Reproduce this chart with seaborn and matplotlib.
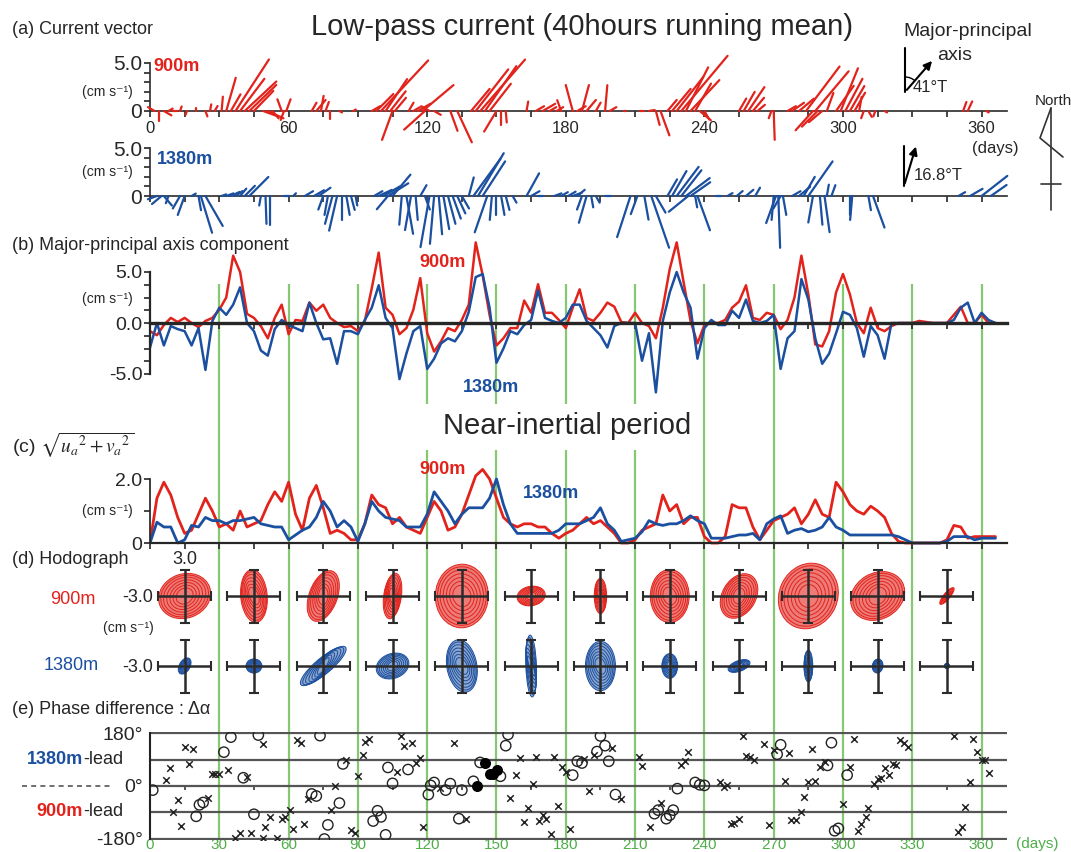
import numpy as np
import matplotlib
matplotlib.use("Agg")
import matplotlib.pyplot as plt
from matplotlib.collections import LineCollection
from matplotlib.patches import Ellipse, Arc
import seaborn as sns

sns.set_theme(style="ticks")
plt.rcParams['font.family'] = ['Liberation Sans', 'DejaVu Sans']
plt.rcParams['mathtext.fontset'] = 'stix'

W, H = 1071, 852
RED = '#e2231c'
BLUE = '#1b4f9f'
GREEN = '#86c872'
GREEN_TXT = '#4eae48'
GRAY = '#555555'

# ---------------- data ----------------
days3 = np.arange(0, 367, 3)

# (b) major-principal axis component (cm/s), every 3 days
major_900 = [
    -0.8, -1.2, -0.2, 0.5, 0.1, 0.5, 0.0, -0.4, 0.2, 0.5,
    1.3, 2.5, 6.6, 5.0, 0.9, 0.5, -0.3, -1.5, 0.5, 1.8,
    -1.1, 0.3, 0.2, 2.0, 1.2, 1.8, 0.5, 0.0, -0.4, -0.3,
    -0.8, 0.2, 3.4, 6.9, 1.5, 0.8, -1.1, -0.5, 1.3, 4.4,
    -1.0, -2.8, -1.8, -0.5, -0.8, 0.3, 1.8, 7.9, 4.7, 0.8,
    -2.2, -1.5, -0.5, -0.5, 2.2, 1.0, 3.8, 1.0, 1.0, 0.3,
    -0.5, 1.5, 3.3, 0.5, 0.2, 1.0, 2.0, 1.6, 0.1, 0.0,
    1.0, 0.0, -0.3, -1.5, 1.5, 5.3, 7.9, 4.0, 0.2, -2.0,
    -0.2, 0.0, 0.0, 0.3, 1.5, 2.1, 3.7, 0.5, 0.3, 1.0,
    0.8, -0.6, 0.3, 2.5, 6.6, 2.8, -2.1, -2.3, -0.8, 3.0,
    4.8, 2.8, 0.0, -1.0, 1.5, -0.5, -0.8, -0.3, 0.0, 0.0,
    0.0, 0.2, 0.1, 0.0, 0.0, 0.0, 0.8, 1.6, 0.0, 0.0,
    0.8, 0.0, 0.0]
major_1380 = [
    -2.4, 0.0, -2.2, -0.3, -0.6, -0.8, -2.2, -0.5, -4.6, 0.2,
    1.5, 0.8, 1.8, 3.5, 0.0, -0.8, -2.7, -3.2, -0.6, 0.3,
    -0.2, -0.5, -0.8, 2.0, 0.0, -1.6, -1.5, -4.0, -0.8, -0.8,
    -1.1, 0.3, 1.5, 3.7, 0.5, -0.5, -5.5, -3.0, -0.8, -0.3,
    -4.5, -3.5, -2.0, -1.5, -1.8, -0.8, 1.1, 4.5, 4.8, 1.5,
    -3.9, -2.5, -0.8, -1.1, -0.2, 0.3, 3.2, 0.5, 0.2, 0.0,
    0.5, 1.8, 1.8, 0.2, -0.5, -1.2, -2.4, -0.3, 0.0, 0.0,
    0.0, -3.7, -1.0, -6.8, 0.2, 3.0, 5.0, 3.0, 1.5, -3.5,
    -0.5, 0.3, -0.2, -0.2, 1.2, 0.5, 2.3, 0.2, 0.0, 0.2,
    0.8, -4.5, -1.5, -0.8, 4.3, 2.3, -1.5, -4.0, -3.0, -1.0,
    1.1, 0.8, -0.5, -3.3, -0.3, -1.2, -3.5, 0.0, 0.0, 0.0,
    0.0, 0.0, 0.0, 0.0, 0.0, 0.0, 0.3, 1.5, 2.0, 0.0,
    1.0, 0.3, 0.0]

# (c) near-inertial amplitude sqrt(ua^2+va^2) (cm/s), every 3 days
amp_900 = [
    0.0, 1.4, 1.9, 1.5, 0.8, 0.3, 0.4, 0.9, 1.4, 1.0,
    0.5, 0.6, 0.4, 1.0, 0.5, 0.6, 0.7, 1.2, 1.6, 1.3,
    1.9, 0.9, 0.4, 1.4, 1.8, 1.1, 0.3, 0.4, 0.3, 0.1,
    0.1, 0.6, 1.5, 1.2, 1.1, 0.6, 0.8, 0.5, 0.4, 0.3,
    0.8, 1.3, 1.0, 0.4, 0.5, 0.9, 1.5, 2.1, 2.3, 2.0,
    1.4, 0.8, 0.6, 0.5, 0.6, 0.6, 0.5, 0.5, 0.3, 0.15,
    0.3, 0.4, 0.6, 0.8, 0.6, 0.7, 0.5, 0.3, 0.0, 0.0,
    0.1, 0.4, 0.5, 0.6, 1.5, 1.0, 1.2, 0.6, 0.8, 0.8,
    0.2, 0.0, 0.0, 0.2, 1.2, 1.1, 1.1, 0.5, 0.1, 0.4,
    0.7, 0.8, 0.9, 1.1, 0.6, 0.9, 1.35, 0.9, 0.8, 1.9,
    1.6, 1.2, 1.0, 0.9, 1.15, 1.0, 0.8, 0.3, 0.05, 0.0,
    0.0, 0.0, 0.0, 0.0, 0.0, 0.1, 0.55, 0.5, 0.15, 0.2,
    0.2, 0.2, 0.2]
amp_1380 = [
    0.0, 0.65, 0.5, 0.5, 0.0, 0.1, 0.55, 0.5, 0.8, 0.7,
    0.7, 0.6, 0.7, 0.7, 0.75, 0.8, 0.6, 0.55, 0.5, 0.5,
    0.1, 0.25, 0.4, 0.5, 0.8, 1.3, 1.0, 0.5, 0.7, 0.5,
    0.05, 0.6, 1.3, 1.0, 0.8, 0.75, 0.7, 0.5, 0.5, 0.5,
    0.9, 1.6, 1.3, 1.0, 0.6, 0.9, 1.1, 1.1, 1.1, 1.4,
    2.0, 1.2, 0.6, 0.3, 0.3, 0.3, 0.3, 0.3, 0.3, 0.4,
    0.6, 0.6, 0.6, 0.7, 0.8, 1.1, 0.6, 0.4, 0.05, 0.1,
    0.15, 0.35, 0.7, 0.6, 0.55, 0.6, 0.6, 0.7, 0.85, 0.7,
    0.6, 0.15, 0.15, 0.15, 0.2, 0.25, 0.25, 0.3, 0.1, 0.6,
    0.75, 0.85, 0.3, 0.4, 0.45, 0.35, 0.4, 0.5, 0.8, 0.5,
    0.4, 0.25, 0.25, 0.25, 0.25, 0.25, 0.25, 0.25, 0.2, 0.1,
    0.0, 0.0, 0.0, 0.0, 0.0, 0.05, 0.2, 0.2, 0.2, 0.1,
    0.15, 0.15, 0.15]

# (a) low-pass current sticks: day, speed (cm/s), direction (deg true)
sticks_900 = np.array([
    [2, 0.8, 300], [4, 1.0, 180], [6, 0.9, 120], [8, 0.5, 60], [10, 0.4, 90],
    [13, 0.5, 20], [16, 0.4, 200], [20, 0.3, 0], [24, 0.6, 160], [26, 0.7, 10],
    [28, 0.6, 30], [31, 1.5, 5], [33, 3.6, 16], [35, 2.0, 30], [37, 6.4, 33],
    [39, 4.2, 37], [41, 4.5, 47], [43, 3.9, 46], [45, 2.9, 44], [49, 1.5, 110],
    [51, 1.8, 115], [53, 1.0, 140], [57, 1.3, 340], [59, 1.3, 20], [58, 1.0, 200],
    [70, 1.0, 30], [72, 1.5, 40], [74, 1.6, 10], [76, 1.0, 20], [78, 0.8, 180],
    [82, 0.3, 120], [88, 0.3, 60], [96, 1.0, 60], [98, 2.5, 45], [100, 7.2, 43],
    [102, 4.0, 34], [104, 2.6, 38], [106, 1.8, 40], [105, 3.2, 200], [112, 1.0, 30],
    [114, 0.8, 60], [116, 1.5, 60], [118, 4.2, 50], [119, 2.9, 228], [121, 1.0, 300],
    [123, 0.8, 120], [130, 2.2, 160], [133, 3.6, 155], [139, 3.0, 40], [141, 5.5, 38],
    [143, 7.1, 41], [145, 5.7, 35], [147, 3.6, 38], [150, 2.5, 211], [152, 1.5, 180],
    [154, 1.2, 175], [163, 1.0, 10], [167, 1.0, 60], [170, 1.5, 60], [173, 0.8, 60],
    [176, 0.8, 60], [178, 1.2, 340], [183, 2.8, 345], [185, 1.0, 60], [187, 2.8, 15],
    [189, 1.5, 40], [193, 1.0, 30], [197, 2.7, 5], [199, 0.8, 60], [205, 0.3, 90],
    [212, 0.4, 90], [216, 0.6, 80], [219, 1.5, 165], [221, 2.7, 160], [224, 1.5, 40],
    [226, 3.0, 40], [228, 4.5, 38], [230, 7.5, 40], [232, 5.1, 27], [234, 4.4, 43],
    [236, 3.3, 30], [238, 1.5, 130], [240, 1.0, 150], [255, 1.5, 30], [257, 2.3, 30],
    [259, 3.0, 34], [261, 1.8, 40], [263, 1.0, 50], [269, 0.8, 200], [270, 3.0, 178],
    [276, 1.0, 60], [278, 1.5, 55], [281, 2.0, 50], [284, 5.8, 37], [288, 5.4, 40],
    [287, 2.7, 222], [289, 2.3, 225], [291, 1.8, 230], [293, 2.0, 20], [297, 3.2, 35],
    [299, 4.8, 22], [301, 3.8, 28], [303, 3.0, 30], [305, 2.2, 30], [307, 1.5, 10],
    [309, 0.8, 200], [311, 0.7, 150], [314, 0.6, 200], [318, 0.3, 120], [352, 1.0, 20],
    [354, 1.1, 25], [362, 0.3, 120]])
sticks_1380 = np.array([
    [3, 1.0, 250], [5, 1.3, 230], [6, 1.3, 140], [8, 0.8, 200], [13, 1.5, 210],
    [15, 2.1, 200], [18, 0.5, 60], [21, 1.5, 170], [22, 4.0, 163], [24, 3.6, 150],
    [31, 0.5, 70], [33, 0.8, 70], [35, 1.0, 65], [37, 0.9, 55], [39, 1.0, 40],
    [41, 1.5, 45], [43, 2.8, 45], [48, 1.0, 190], [50, 2.9, 178], [52, 3.0, 180],
    [58, 0.5, 90], [62, 0.4, 45], [67, 1.0, 60], [71, 1.2, 60], [73, 1.5, 55],
    [75, 1.5, 200], [77, 2.0, 190], [79, 3.0, 195], [81, 3.7, 193], [83, 2.5, 180],
    [85, 2.0, 170], [87, 1.5, 165], [89, 1.0, 170], [97, 1.0, 60], [99, 1.5, 65],
    [101, 2.0, 60], [103, 1.8, 220], [103, 2.5, 58], [105, 2.9, 40], [109, 3.0, 185],
    [111, 4.0, 170], [113, 3.6, 190], [115, 2.5, 175], [117, 1.3, 30], [119, 1.5, 160],
    [121, 5.4, 190], [123, 5.0, 185], [125, 4.0, 175], [127, 3.5, 170], [129, 3.0, 165],
    [131, 2.5, 160], [133, 2.0, 155], [135, 1.5, 150], [138, 2.0, 15], [140, 4.8, 36],
    [142, 5.2, 31], [144, 4.3, 33], [146, 4.0, 199], [148, 2.5, 185], [150, 2.0, 180],
    [152, 2.0, 170], [154, 1.5, 165], [157, 0.8, 150], [163, 2.7, 29], [165, 1.0, 60],
    [168, 0.5, 90], [175, 0.8, 70], [178, 0.8, 60], [181, 0.9, 60], [183, 1.0, 70],
    [185, 1.0, 50], [187, 1.5, 200], [189, 2.9, 196], [191, 1.2, 170], [193, 0.8, 150],
    [197, 0.6, 90], [208, 4.5, 198], [211, 2.0, 200], [214, 2.5, 170], [217, 5.7, 161],
    [219, 2.0, 150], [224, 2.0, 30], [226, 3.0, 30], [228, 3.8, 37], [230, 3.4, 38],
    [232, 3.1, 53], [234, 2.5, 55], [233, 2.6, 231], [236, 1.2, 170], [237, 3.8, 160],
    [245, 0.5, 90], [250, 0.6, 60], [254, 0.8, 50], [258, 1.0, 50], [262, 1.0, 30],
    [270, 2.5, 185], [271, 3.0, 200], [272, 5.4, 178], [273, 1.5, 210], [274, 2.0, 170],
    [278, 1.0, 60], [281, 1.5, 50], [283, 2.3, 30], [285, 4.4, 35], [287, 2.8, 190],
    [290, 3.0, 175], [292, 3.8, 172], [293, 1.2, 10], [295, 1.2, 20], [303, 2.0, 180],
    [304, 2.5, 185], [311, 1.5, 170], [313, 3.5, 160], [350, 0.8, 60], [355, 1.5, 60],
    [360, 3.4, 52], [364, 2.0, 55]])

# (d) hodograph windows: centre day, ellipse semi-axes (cm/s), orientation (deg)
hodo_days = np.arange(15, 360, 30)
hodo_900 = np.array([
    [3.0, 2.5, 20], [3.0, 1.5, 95], [3.0, 1.6, 70], [2.6, 1.0, 82],
    [3.6, 3.0, 88], [1.6, 1.1, 10], [2.0, 0.7, 90], [3.0, 2.2, 90],
    [2.7, 1.9, 60], [3.8, 3.3, 65], [3.2, 2.6, 30], [1.2, 0.35, 50]])
hodo_1380 = np.array([
    [1.0, 0.6, 60], [0.9, 0.8, 0], [3.3, 0.9, 40], [1.9, 1.4, 20],
    [3.0, 1.7, 100], [3.5, 0.6, 92], [2.8, 1.7, 90], [1.4, 0.9, 90],
    [1.3, 0.6, 20], [1.8, 0.5, 90], [0.8, 0.6, 80], [0.3, 0.3, 0]])

# (e) phase difference (deg): crosses, open circles, filled circles
phase_cross = np.array([
    [7, 20], [8.5, 61], [10, -90], [12, -46], [13.6, -136], [15, 131], [17, 75],
    [18.4, 126], [25, -42], [26.8, 40], [28.3, 40], [29.9, 40], [33.7, 54],
    [37, -178], [38.8, -159], [42, 30], [43.6, -159], [48.8, -178], [49, 144],
    [50, -138], [52, -106], [55, -178], [57, -112], [58.6, -105], [60.5, -83],
    [62, -145], [63.8, 156], [65.3, 147], [66.8, -129], [68.5, -43], [78.5, -80],
    [80, 0], [85, 88], [86.8, -150], [88.7, -161], [90, 33], [92, 106], [93, 150],
    [95, 160], [107, 47], [108.8, 171], [110, 137], [113.6, 145], [115, 78],
    [117, 94], [118, -138], [125.6, -6], [131.5, 146], [136.6, -111], [156, -41],
    [158.6, 37], [160, 96], [162, -123], [163.5, -76], [166, 6], [167, 99],
    [168.6, -119], [170, -99], [171.5, -113], [173.4, -164], [175, 99],
    [176.6, -68], [178.5, 63], [180.3, 47], [181.8, -146], [188, 91], [190, -16],
    [192, 105], [200, 129], [203.7, -44], [211.8, 99], [213, 69], [216.6, -140],
    [221, -58], [230, 70], [231.5, 84], [233, 115], [246.6, 12], [248.4, -2],
    [250, 5], [251.6, -129], [253, -126], [255, -112], [256.9, 171], [258, 102],
    [259.6, 97], [261.5, 88], [266, 143], [268, -132], [270, 123], [274.7, 18],
    [276.5, 111], [277.7, -117], [279.6, -117], [281.8, -89], [283, -36],
    [285, 12], [286.4, 125], [288, 18], [290, 66], [292, 82], [300, -62],
    [303, 66], [304.7, 161], [306.5, -153], [308, -129], [310, -105], [311, -75],
    [313.5, 6], [315, 23], [316.4, 28], [318, 61], [320, 39], [321.6, 75],
    [323, 70], [324.8, 156], [326.5, 145], [328, 132], [348, 171], [350, -156],
    [351.6, -138], [353, -70], [355, 15], [356.4, 159], [358, 115], [360, 87],
    [361.4, 87], [363, 44]])
phase_open = np.array([
    [1.2, -14], [20, -103], [21.4, -64], [23, -56], [32, 115], [35, 166],
    [40.4, 28], [45, -96], [46.9, 173], [70, -27], [72, -34], [73.6, 171],
    [75.5, -180], [77, -132], [82, -58], [83.5, 75], [96.6, -119], [98.5, -84],
    [100, -105], [102, -166], [103, 63], [105, 9], [111.7, 56], [120.5, -29],
    [121.5, 2], [123, 12], [128, -14], [130, 8], [133.7, -111], [135, -14],
    [140, 16], [142.9, 80], [151.7, 33], [154, 137], [155, 175], [183, 37],
    [185, 84], [187, 78], [193.5, 117], [195, 170], [197, 137], [198.6, 84],
    [201.5, -29], [218.4, -94], [220, -82], [223.5, -111], [225, -99],
    [226.5, -82], [228.3, -9], [236, 12], [238, 4], [240, 2], [271.5, 108],
    [273, 140], [293.3, 70], [295, 147], [296.4, -152], [298, -144], [301.8, 37]])
phase_filled = np.array([[141.7, 0], [145, 78], [147, 42], [148.3, 40], [150.2, 53]])

green_days = np.arange(30, 361, 30)
day_ticks = np.arange(0, 361, 60)

# ---------------- layout helpers ----------------
X0, X1, DMAX = 150, 1007, 371
PPD = (X1 - X0) / DMAX

fig = plt.figure(figsize=(W / 100, H / 100), dpi=100)


def box(x0, y0, x1, y1):
    return [x0 / W, 1 - y1 / H, (x1 - x0) / W, (y1 - y0) / H]


def time_axes(zero_px, ppu, lo, hi):
    ax = fig.add_axes(box(X0, zero_px - hi * ppu, X1, zero_px - lo * ppu))
    ax.set_xlim(0, DMAX)
    ax.set_ylim(lo, hi)
    ax.patch.set_alpha(0)
    for s in ("top", "right"):
        ax.spines[s].set_visible(False)
    ax.spines["bottom"].set_position(("data", 0))
    ax.spines["bottom"].set_bounds(0, DMAX)
    ax.set_xticks(day_ticks)
    ax.set_xticks(np.arange(0, 361, 15), minor=True)
    ax.tick_params(axis="x", which="both", direction="out", length=4, width=1.2,
                   labelbottom=False, bottom=True)
    ax.tick_params(axis="y", which="both", direction="out", length=4, width=1.2,
                   pad=1.5, left=True)
    return ax


def unit_label(ax, y, size=10):
    ax.text(-0.02, y, "(cm s⁻¹)", transform=ax.get_yaxis_transform(),
            ha="right", va="center", fontsize=size)


def draw_sticks(ax, sticks, color, ppu):
    k = ppu / PPD
    d, s, th = sticks.T
    u = s * np.sin(np.radians(th))
    v = s * np.cos(np.radians(th))
    segs = [[(di, 0), (di + ui * k, vi)] for di, ui, vi in zip(d, u, v)]
    lc = LineCollection(segs, colors=color, linewidths=1.6, capstyle="round", zorder=3)
    lc.set_clip_on(False)
    ax.add_collection(lc)


# ---------------- background: green day lines ----------------
gax = fig.add_axes(box(X0, 0, X1, H))
gax.set_xlim(0, DMAX)
gax.set_ylim(H, 0)
gax.axis("off")
for d in green_days:
    if d in (120, 150, 180, 210):
        gax.vlines(d, 284, 404, color=GREEN, lw=1.6)
        gax.vlines(d, 450, 838, color=GREEN, lw=1.6)
    else:
        gax.vlines(d, 284, 838, color=GREEN, lw=1.6)

# ---------------- (a) current vectors ----------------
ppa = 9.6
ax_a1 = time_axes(111, ppa, -4.0, 6.0)
ax_a1.set_yticks([0, 5], ["0", "5.0"], fontsize=15)
ax_a1.set_yticks([1, 2, 3, 4], minor=True)
ax_a1.spines["left"].set_bounds(0, 5)
ax_a1.tick_params(axis="x", labelbottom=True, labelsize=12, pad=3)
ax_a1.set_xticklabels([str(t) for t in day_ticks])
for sp in ax_a1.spines.values():
    sp.set_color("#333333")
draw_sticks(ax_a1, sticks_900, RED, ppa)
unit_label(ax_a1, 2.0)
ax_a1.text(1.5, 4.6, "900m", color=RED, fontsize=13, fontweight="bold", va="center")

ax_a2 = time_axes(196, ppa, -5.0, 5.5)
ax_a2.set_yticks([0, 5], ["0", "5.0"], fontsize=15)
ax_a2.set_yticks([1, 2, 3, 4], minor=True)
ax_a2.spines["left"].set_bounds(0, 5)
for sp in ax_a2.spines.values():
    sp.set_color("#333333")
draw_sticks(ax_a2, sticks_1380, BLUE, ppa)
unit_label(ax_a2, 2.5)
ax_a2.text(3, 3.85, "1380m", color=BLUE, fontsize=13, fontweight="bold", va="center")

# ---------------- (b) major-principal axis component ----------------
ax_b = time_axes(323, 10.2, -7.5, 8.5)
ax_b.set_yticks([-5, 0, 5], ["-5.0", "0.0", "5.0"], fontsize=14)
ax_b.set_yticks([-3.75, -2.5, -1.25, 1.25, 2.5, 3.75], minor=True)
ax_b.spines["left"].set_bounds(-5, 5)
ax_b.spines["bottom"].set_linewidth(2.4)
ax_b.spines["left"].set_linewidth(1.6)
sns.lineplot(x=days3, y=major_900, ax=ax_b, color=RED, linewidth=1.8)
sns.lineplot(x=days3, y=major_1380, ax=ax_b, color=BLUE, linewidth=1.8)
ax_b.set_xlabel("")
ax_b.set_ylabel("")
unit_label(ax_b, 2.4)
ax_b.text(126.5, 5.9, "900m", color=RED, fontsize=13, fontweight="bold", ha="center", va="center")
ax_b.text(147.5, -6.3, "1380m", color=BLUE, fontsize=13, fontweight="bold", ha="center", va="center")

# ---------------- (c) near-inertial amplitude ----------------
ax_c = time_axes(543, 32, -0.3, 2.6)
ax_c.set_yticks([0, 2], ["0", "2.0"], fontsize=14)
ax_c.set_yticks([1], minor=True)
ax_c.spines["left"].set_bounds(0, 2)
ax_c.spines["bottom"].set_linewidth(1.6)
sns.lineplot(x=days3, y=amp_900, ax=ax_c, color=RED, linewidth=2.0)
sns.lineplot(x=days3, y=amp_1380, ax=ax_c, color=BLUE, linewidth=2.0)
ax_c.set_xlabel("")
ax_c.set_ylabel("")
unit_label(ax_c, 1.0)
ax_c.text(126.5, 2.3, "900m", color=RED, fontsize=13, fontweight="bold", ha="center", va="center")
ax_c.text(173.5, 1.55, "1380m", color=BLUE, fontsize=13, fontweight="bold", ha="center", va="center")

# ---------------- (d) hodographs ----------------
half_px, px3 = 40, 26.5
lim = half_px * 3 / px3
for row_y, params, color, fill_a in ((596, hodo_900, RED, 0.6), (666, hodo_1380, BLUE, 0.5)):
    for d, (a, b, ang) in zip(hodo_days, params):
        cx = X0 + d * PPD
        ax = fig.add_axes(box(cx - half_px, row_y - half_px, cx + half_px, row_y + half_px))
        ax.set_xlim(-lim, lim)
        ax.set_ylim(-lim, lim)
        ax.axis("off")
        ax.add_patch(Ellipse((0, 0), 2 * a, 2 * b, angle=ang, fc=color, ec="none", alpha=fill_a))
        for f in (1.0, 0.92, 0.82, 0.7, 0.58, 0.46, 0.34):
            ax.add_patch(Ellipse((0, 0), 2 * a * f, 2 * b * f, angle=ang + (1 - f) * 25,
                                 fill=False, ec=color, lw=0.7))
        ax.errorbar(0, 0, xerr=3, yerr=3, fmt="none", ecolor="#2b2b2b", elinewidth=1.8,
                    capsize=3.5, capthick=1.5, zorder=5)

# ---------------- (e) phase difference ----------------
ax_e = fig.add_axes(box(X0, 786 - 185 * 0.2944, X1, 786 + 182 * 0.2944))
ax_e.set_xlim(0, DMAX)
ax_e.set_ylim(-182, 185)
ax_e.patch.set_alpha(0)
for s in ("top", "right", "bottom"):
    ax_e.spines[s].set_visible(False)
ax_e.spines["left"].set_bounds(-180, 180)
ax_e.spines["left"].set_color("#222222")
ax_e.spines["left"].set_linewidth(1.5)
ax_e.hlines([-180, -90, 0, 90, 180], 0, DMAX, color=GRAY, lw=1.6, zorder=1)
ax_e.vlines(np.arange(15, 361, 30), -14, 0, color=GRAY, lw=1.4)
ax_e.set_yticks([-180, 0, 180], ["-180°", "0°", "180°"], fontsize=14)
ax_e.tick_params(axis="y", length=0, pad=5)
ax_e.set_xticks(np.arange(0, 361, 30))
ax_e.tick_params(axis="x", length=0, labelcolor=GREEN_TXT, labelsize=11, pad=6.5)
for lbl in ax_e.get_xticklabels():
    lbl.set_va("baseline")
sns.scatterplot(x=phase_cross[:, 0], y=phase_cross[:, 1], ax=ax_e, marker="x",
                color="#222222", s=22, linewidth=1.1, zorder=4)
sns.scatterplot(x=phase_open[:, 0], y=phase_open[:, 1], ax=ax_e, marker="o",
                s=55, facecolor="none", edgecolor="#222222", linewidth=1.0, zorder=4)
sns.scatterplot(x=phase_filled[:, 0], y=phase_filled[:, 1], ax=ax_e, marker="o",
                s=48, color="black", edgecolor="black", linewidth=1.0, zorder=4)

# ---------------- annotations in pixel space ----------------
ann = fig.add_axes([0, 0, 1, 1])
ann.set_xlim(0, W)
ann.set_ylim(H, 0)
ann.axis("off")
ann.patch.set_alpha(0)


def t(x, y, s, **kw):
    kw.setdefault("fontsize", 13)
    kw.setdefault("va", "center")
    ann.text(x, y, s, **kw)


t(12, 30, "(a) Current vector")
t(582, 27, "Low-pass current (40hours running mean)", fontsize=21, ha="center")
t(968, 32, "Major-principal", fontsize=14, ha="center")
t(955, 56, "axis", fontsize=14, ha="center")
t(913, 87, "41°T", fontsize=12)
t(914, 176, "16.8°T", fontsize=12)
t(1053, 101, "North", fontsize=11, ha="center")
t(995, 148, "(days)", fontsize=12, ha="center")
t(12, 246, "(b) Major-principal axis component")
t(12, 445, r"(c) $\sqrt{u_a{}^{2}+v_a{}^{2}}$", fontsize=14)
t(567, 426, "Near-inertial period", fontsize=21, ha="center")
t(12, 560, "(d) Hodograph")
t(185, 559, "3.0", ha="center")
t(73, 599, "900m", color=RED, ha="center")
t(71, 666, "1380m", color=BLUE, ha="center")
t(153, 597, "-3.0", ha="right")
t(153, 667, "-3.0", ha="right")
t(128, 628, "(cm s⁻¹)", fontsize=10, ha="center")
t(12, 709, "(e) Phase difference : Δα")
t(83, 759, "1380m", color=BLUE, fontweight="bold", ha="right")
t(83, 759, "-lead", ha="left")
t(83, 811, "900m", color=RED, fontweight="bold", ha="right")
t(83, 811, "-lead", ha="left")
t(1037, 848, "(days)", fontsize=11, ha="center", color=GREEN_TXT, va="baseline")
ann.plot([22, 112], [786, 786], color=GRAY, lw=1.2, ls=(0, (3, 2.5)))

# principal axis glyphs
for (bx, by, top, ang) in ((905, 92, 48, 41.0), (904, 186, 146, 16.8)):
    ann.plot([bx, bx], [top, by], color="black", lw=1.5)
    tip = (bx + 44 * np.sin(np.radians(ang)), by - 44 * np.cos(np.radians(ang)))
    ann.annotate("", xy=tip, xytext=(bx, by),
                 arrowprops=dict(arrowstyle="-|>", lw=1.5, color="black", mutation_scale=12))
ann.add_patch(Arc((905, 92), 30, 30, theta1=270, theta2=270 + 41, color="black", lw=1.0))

# north glyph
ann.plot([1051, 1051], [108, 210], color="#333333", lw=1.2)
ann.plot([1051, 1040, 1063], [108, 138, 157], color="#333333", lw=1.2)
ann.plot([1041, 1061], [184, 184], color="#333333", lw=1.2)

fig.savefig("out.png", dpi=100)
